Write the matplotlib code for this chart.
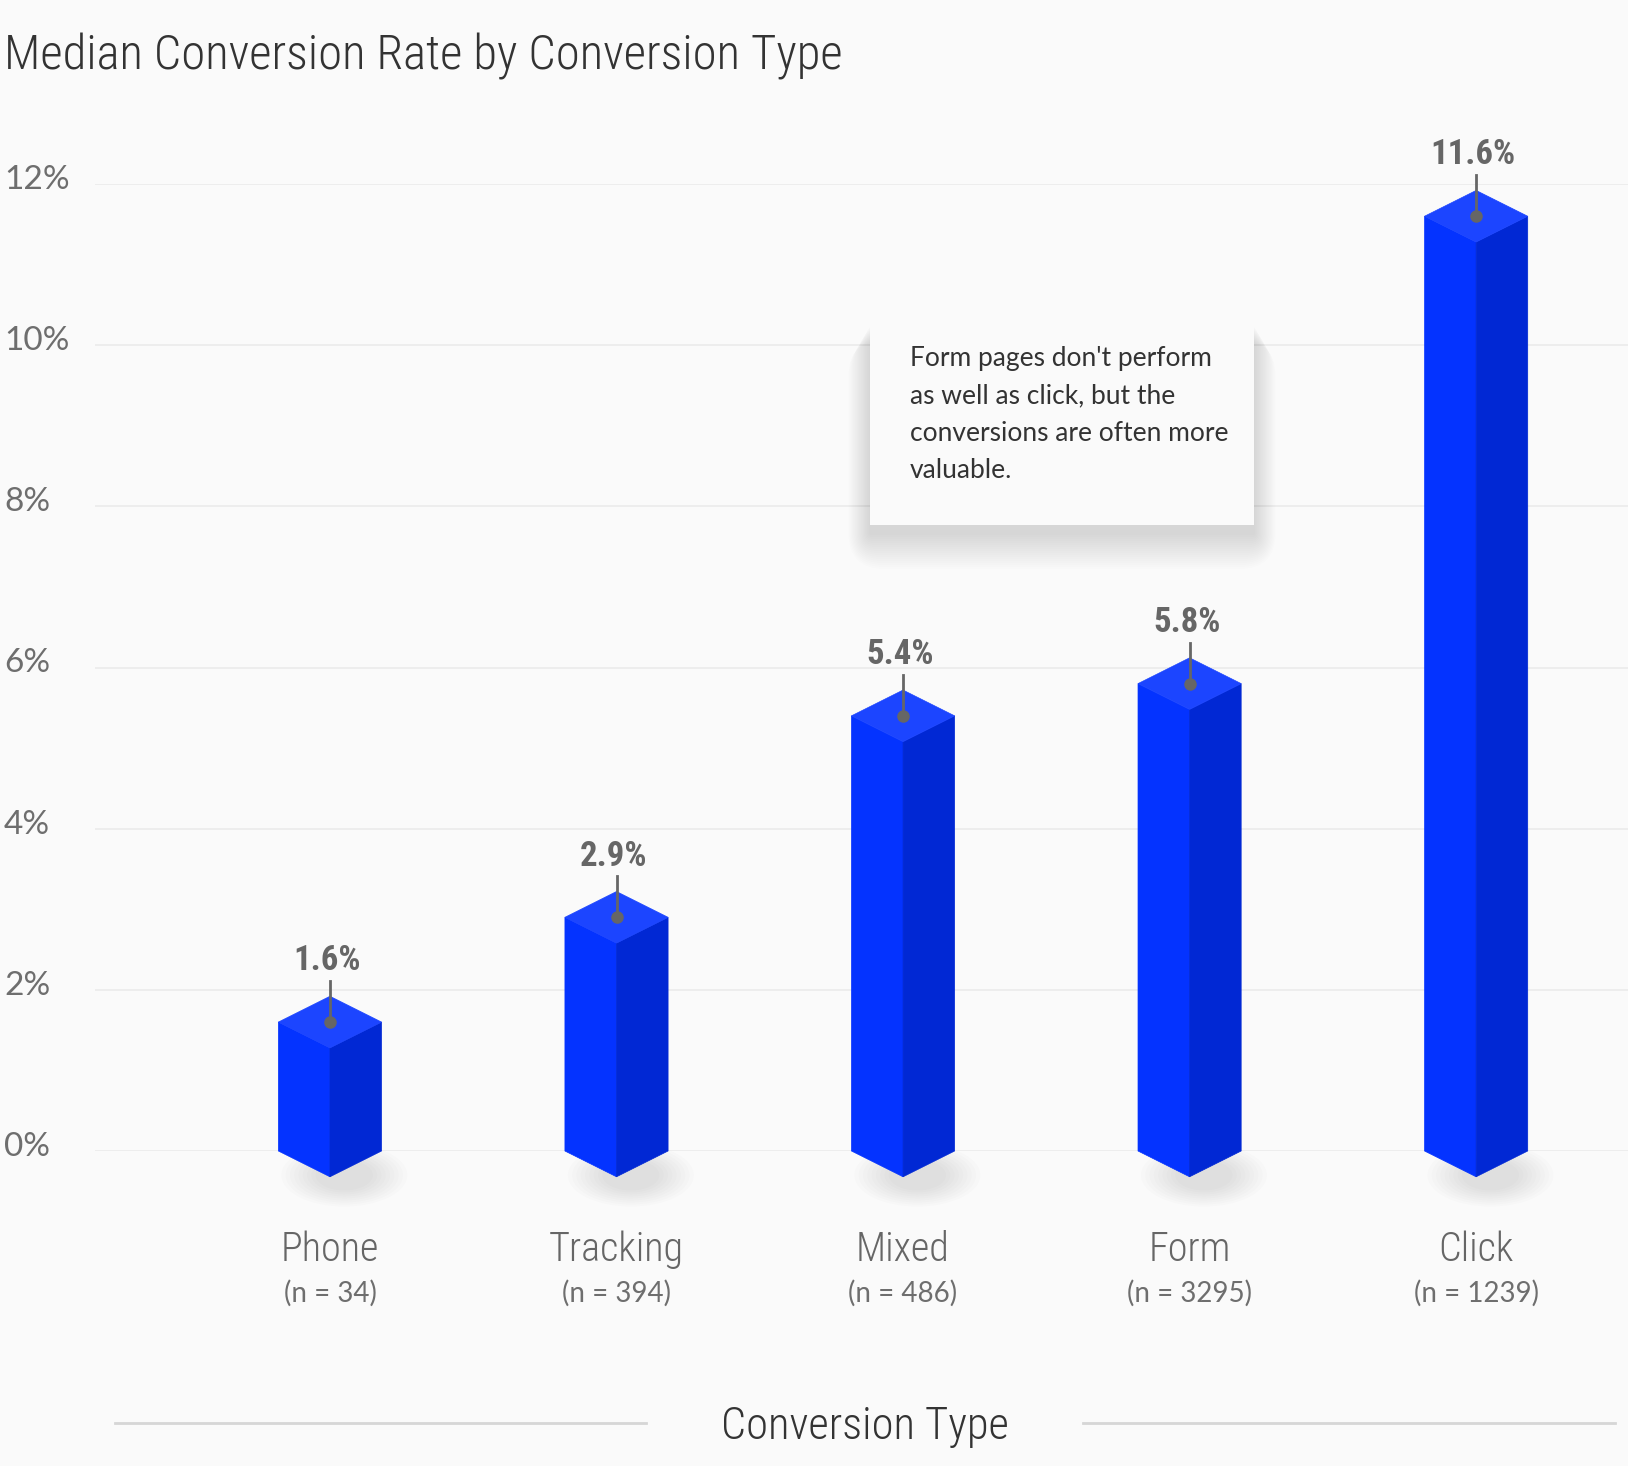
import matplotlib
matplotlib.use("Agg")
import matplotlib.pyplot as plt
from matplotlib.patches import Polygon, Ellipse, FancyBboxPatch, Rectangle

# data
categories = ["Phone", "Tracking", "Mixed", "Form", "Click"]
sample_sizes = [34, 394, 486, 3295, 1239]
rates = [1.6, 2.9, 5.4, 5.8, 11.6]
y_ticks = [0, 2, 4, 6, 8, 10, 12]
title = "Median Conversion Rate by Conversion Type"
x_title = "Conversion Type"
note = "Form pages don't perform\nas well as click, but the\nconversions are often more\nvaluable."

W, H = 1628, 1466
bg = "#fafafa"
cond = ["Roboto Condensed", "Roboto", "DejaVu Sans"]
plain = ["Lato", "DejaVu Sans"]

fig = plt.figure(figsize=(W / 100, H / 100), dpi=100, facecolor=bg)

# main axes: 0% at y=1151px, 12% at y=184px
ax = fig.add_axes([95 / W, 1 - 1151 / H, 1 - 95 / W, (1151 - 184) / H])
ax.set_xlim(-0.82, 4.53)
ax.set_ylim(0, 12)
ax.axis("off")

# gridlines + tick labels
for t in y_ticks:
    ax.axhline(t, color="#ebebeb", lw=1.2, zorder=0)
    ax.text(-0.0594, t + 0.05, f"{t}%", transform=ax.get_yaxis_transform(),
            ha="left", va="center", fontsize=24, color="#6e6e6e",
            family=plain, clip_on=False)

# isometric bars
hw = 0.18   # half width (category units)
hh = 0.32   # half height of the top rhombus (%)
for i, v in enumerate(rates):
    # soft shadow at the base
    for k in range(9):
        ax.add_patch(Ellipse((i + 0.05, -0.3), 0.44 - k * 0.03, 0.78 - k * 0.05,
                             fc="#000000", ec="none", alpha=0.012, zorder=1, clip_on=False))
    left = [(i - hw, v), (i - hw, 0), (i, -hh), (i, v - hh)]
    right = [(i, v - hh), (i + hw, v), (i + hw, 0), (i, -hh)]
    top = [(i, v + hh), (i + hw, v), (i, v - hh), (i - hw, v)]
    ax.add_patch(Polygon(left, closed=True, fc="#0433ff", ec="#0433ff", lw=0.5, zorder=2, clip_on=False))
    ax.add_patch(Polygon(right, closed=True, fc="#0128d4", ec="#0128d4", lw=0.5, zorder=2, clip_on=False))
    ax.add_patch(Polygon(top, closed=True, fc="#1c45ff", ec="#1c45ff", lw=0.5, zorder=3, clip_on=False))

    # leader line, dot and value label
    ax.plot([i, i], [v, v + hh + 0.19], color="#666666", lw=2, zorder=4, clip_on=False)
    ax.plot(i, v, "o", color="#666666", ms=8, zorder=5, clip_on=False)
    ax.text(i - 0.01, v + hh + 0.44, f"{v}%", ha="center", va="center", fontsize=25,
            fontweight="bold", color="#666666", family=cond, clip_on=False)

    # category labels
    ax.text(i, -1.22, categories[i], ha="center", va="center", fontsize=29,
            color="#666666", family=cond, fontweight="light", clip_on=False)
    ax.text(i, -1.77, f"(n = {sample_sizes[i]})", ha="center", va="center",
            fontsize=20, color="#6e6e6e", family=plain, clip_on=False)

# overlay in pixel coords for title, note box, axis title
ov = fig.add_axes([0, 0, 1, 1], zorder=3)
ov.set_xlim(0, W)
ov.set_ylim(H, 0)
ov.axis("off")

ov.text(4, 70, title, ha="left", va="baseline", fontsize=35, color="#333333",
        family=cond, fontweight="light")

# note box with soft shadow, mostly below
bx0, by0, bx1, by1 = 870, 318, 1254, 525
for k in range(18, 0, -1):
    s = k * 2.0
    ov.add_patch(FancyBboxPatch((bx0 - s * 0.6, by0 + 8 + s * 0.4), bx1 - bx0 + 1.2 * s, by1 - by0 + s * 0.6,
                                boxstyle=f"round,pad=0,rounding_size={s}",
                                fc="#000000", ec="none", alpha=0.006))
ov.add_patch(Rectangle((bx0, by0), bx1 - bx0, by1 - by0, fc=bg, ec="none"))
ov.text(910, 346, note, ha="left", va="top", fontsize=19, color="#333333",
        family=plain, linespacing=1.62)

# bottom axis title with side rules
ov.plot([115, 646], [1423, 1423], color="#d6d6d6", lw=2)
ov.plot([1083, 1615], [1423, 1423], color="#d6d6d6", lw=2)
ov.text(865, 1427, x_title, ha="center", va="center", fontsize=32,
        color="#333333", family=cond, fontweight="light")

fig.savefig("out.png", dpi=100, facecolor=bg)
